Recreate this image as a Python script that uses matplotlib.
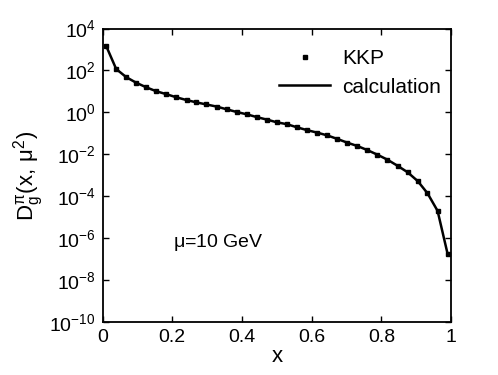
"""Gluon-to-pion fragmentation function D_g^pi(x, mu^2) at mu = 10 GeV."""

import matplotlib

matplotlib.use("Agg")
import matplotlib.pyplot as plt
from matplotlib.ticker import FixedLocator, LogFormatterMathtext

plt.rcParams["font.family"] = ["Liberation Sans", "DejaVu Sans"]
plt.rcParams["mathtext.fontset"] = "custom"
plt.rcParams["mathtext.rm"] = "Liberation Sans"
plt.rcParams["mathtext.it"] = "Liberation Sans"

x_vals = [0.010, 0.039, 0.068, 0.096, 0.125, 0.154, 0.183, 0.212, 0.241,
          0.269, 0.298, 0.327, 0.356, 0.385, 0.414, 0.442, 0.471, 0.500,
          0.529, 0.558, 0.586, 0.615, 0.644, 0.673, 0.702, 0.731, 0.759,
          0.788, 0.817, 0.846, 0.875, 0.904, 0.932, 0.961, 0.990]
log_kkp = [3.18, 2.07, 1.68, 1.42, 1.20, 1.01, 0.87, 0.72, 0.59,
           0.48, 0.38, 0.28, 0.15, 0.02, -0.09, -0.22, -0.34, -0.47,
           -0.56, -0.71, -0.84, -0.96, -1.09, -1.26, -1.44, -1.60, -1.79,
           -2.01, -2.25, -2.54, -2.85, -3.27, -3.85, -4.69, -6.76]
kkp = [10 ** v for v in log_kkp]
calc = list(kkp)

y_ticks = [1e-10, 1e-8, 1e-6, 1e-4, 1e-2, 1e0, 1e2, 1e4]
x_ticks = [0, 0.2, 0.4, 0.6, 0.8, 1]
x_labels = ["0", "0.2", "0.4", "0.6", "0.8", "1"]


def main() -> int:
    fig = plt.figure(figsize=(4.98, 3.75), dpi=100)
    ax = fig.add_axes([0.206, 0.1405, 0.700, 0.7835])

    ax.plot(x_vals, calc, color="black", linewidth=1.8, label="calculation")
    ax.plot(x_vals, kkp, linestyle="none", marker="s", markersize=3.5,
            color="black", label="KKP")

    ax.set_yscale("log")
    ax.set_xlim(0, 1)
    ax.set_ylim(1e-10, 1e4)
    ax.yaxis.set_major_locator(FixedLocator(y_ticks))
    ax.yaxis.set_major_formatter(LogFormatterMathtext())
    ax.yaxis.set_minor_locator(FixedLocator([]))
    ax.set_xticks(x_ticks)
    ax.set_xticklabels(x_labels)
    ax.tick_params(direction="in", length=4, width=1, top=True, right=True,
                   labelsize=14, pad=5)
    for side in ax.spines.values():
        side.set_linewidth(1.3)

    ax.set_xlabel("x", fontsize=16, labelpad=0)
    ax.set_ylabel(r"$\mathrm{D}_{\mathrm{g}}^{\pi}(\mathrm{x},\,\mu^{2})$",
                  fontsize=16, labelpad=2)

    ax.text(0.202, 0.27, r"$\mu$=10 GeV", transform=ax.transAxes,
            fontsize=14, ha="left", va="center")

    handles, labels = ax.get_legend_handles_labels()
    ax.legend(handles[::-1], labels[::-1], loc="upper right",
              bbox_to_anchor=(1.0, 0.965), frameon=False,
              fontsize=15, handlelength=2.45, handletextpad=0.55,
              labelspacing=0.45, borderaxespad=0.1)

    fig.savefig("out.png", dpi=100)
    plt.close(fig)
    return 0


if __name__ == "__main__":
    raise SystemExit(main())
